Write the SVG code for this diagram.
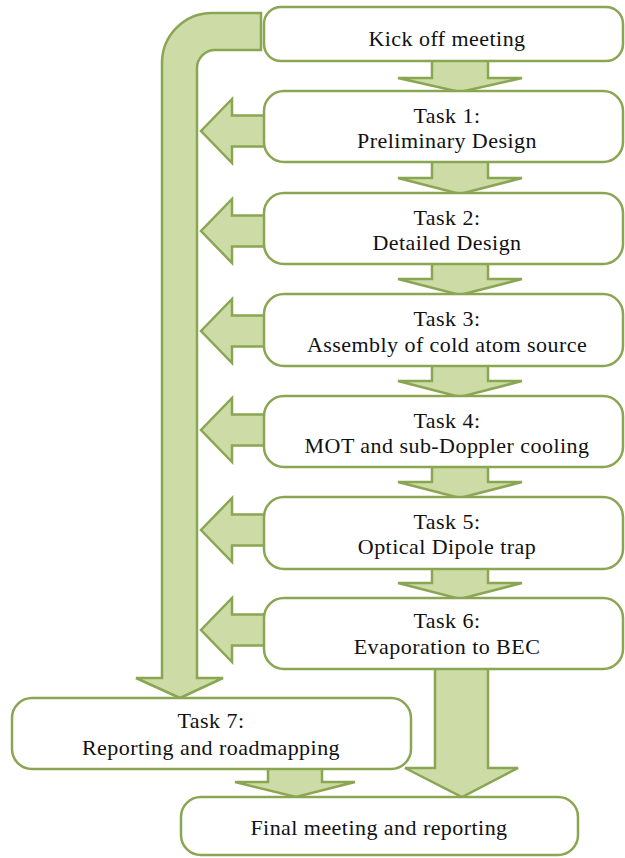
<svg xmlns="http://www.w3.org/2000/svg" width="625" height="858" viewBox="0 0 625 858">
<style>
.arr{fill:#cddba6;stroke:#8aa652;stroke-width:2.5;stroke-linejoin:miter}
.box{fill:#ffffff;stroke:#8aa652;stroke-width:2.5}
text{font-family:"Liberation Serif","Times New Roman",serif;font-size:22px;letter-spacing:0.45px;fill:#111;text-anchor:middle}
</style>
<rect width="625" height="858" fill="#ffffff"/>
<g id="connectors">
<path class="arr" d="M261,13 L212,13 A50,50 0 0 0 162,63 L162,678 L136,678 L180,698 L223,678 L197,678 L197,68 A18,18 0 0 1 215,50 L261,50 Z"/>
<path class="arr" d="M432,58 L488,58 L488,78 L522,78 L460,92 L398,78 L432,78 Z"/>
<path class="arr" d="M432,159 L488,159 L488,178 L522,178 L460,194 L398,178 L432,178 Z"/>
<path class="arr" d="M432,261 L488,261 L488,279 L522,279 L460,295 L398,279 L432,279 Z"/>
<path class="arr" d="M432,363 L488,363 L488,381 L522,381 L460,397 L398,381 L432,381 Z"/>
<path class="arr" d="M432,464 L488,464 L488,482 L522,482 L460,498 L398,482 L432,482 Z"/>
<path class="arr" d="M432,566 L488,566 L488,583 L522,583 L460,599 L398,583 L432,583 Z"/>
<path class="arr" d="M435,666 L488,666 L488,768 L518,768 L462,797 L405,768 L435,768 Z"/>
<path class="arr" d="M268,766 L322,766 L322,782 L355,782 L296,797 L235,782 L268,782 Z"/>
<path class="arr" d="M270,115.5 L232,115.5 L232,99 L201,131 L232,163 L232,146.5 L270,146.5 Z"/>
<path class="arr" d="M270,215.5 L232,215.5 L232,199 L201,231 L232,263 L232,246.5 L270,246.5 Z"/>
<path class="arr" d="M270,315.5 L232,315.5 L232,299 L201,331 L232,363 L232,346.5 L270,346.5 Z"/>
<path class="arr" d="M270,414.5 L232,414.5 L232,398 L201,430 L232,462 L232,445.5 L270,445.5 Z"/>
<path class="arr" d="M270,514.5 L232,514.5 L232,498 L201,530 L232,562 L232,545.5 L270,545.5 Z"/>
<path class="arr" d="M270,614.5 L232,614.5 L232,598 L201,630 L232,662 L232,645.5 L270,645.5 Z"/>
</g>
<g id="kickoff"><rect class="box" x="264" y="7" width="359" height="54" rx="17"/><text x="447" y="46">Kick off meeting</text></g>
<g id="task1"><rect class="box" x="264" y="91" width="359" height="71" rx="20"/><text x="447" y="123">Task 1:</text><text x="447" y="148">Preliminary Design</text></g>
<g id="task2"><rect class="box" x="264" y="193" width="359" height="71" rx="20"/><text x="447" y="225">Task 2:</text><text x="447" y="250">Detailed Design</text></g>
<g id="task3"><rect class="box" x="264" y="294" width="359" height="72" rx="20"/><text x="447" y="326">Task 3:</text><text x="447" y="352">Assembly of cold atom source</text></g>
<g id="task4"><rect class="box" x="264" y="396" width="359" height="71" rx="20"/><text x="447" y="428">Task 4:</text><text x="447" y="453">MOT and sub-Doppler cooling</text></g>
<g id="task5"><rect class="box" x="264" y="497" width="359" height="72" rx="20"/><text x="447" y="529">Task 5:</text><text x="447" y="554">Optical Dipole trap</text></g>
<g id="task6"><rect class="box" x="264" y="598" width="359" height="71" rx="20"/><text x="447" y="628">Task 6:</text><text x="447" y="654">Evaporation to BEC</text></g>
<g id="task7"><rect class="box" x="12" y="698" width="399" height="71" rx="20"/><text x="211" y="728">Task 7:</text><text x="211" y="755">Reporting and roadmapping</text></g>
<g id="final"><rect class="box" x="181" y="797" width="397" height="58" rx="20"/><text x="379" y="835">Final meeting and reporting</text></g>
</svg>
